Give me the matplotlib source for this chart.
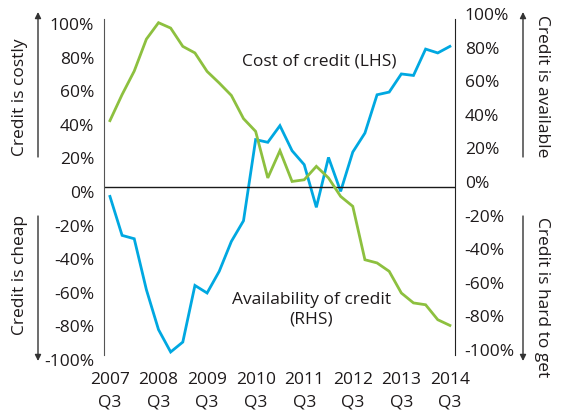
import numpy as np
import matplotlib
matplotlib.use("Agg")
import matplotlib.pyplot as plt
from matplotlib.transforms import ScaledTranslation

plt.rcParams['font.family'] = ['Open Sans', 'DejaVu Sans']

# quarterly, 2007 Q3 .. 2014 Q3
cost_lhs = [-5.6, -28.8, -30.8, -61.1, -84.9, -98.2, -92.3, -58.6,
            -63.1, -50.2, -32.4, -20.1, 28.2, 26.6, 36.5, 21.6,
            13.3, -12.1, 17.6, -2.6, 20.8, 32.1, 54.9, 56.5,
            67.3, 66.4, 82.1, 79.8, 83.7]
avail_rhs = [39.5, 55.0, 69.0, 88.0, 97.8, 94.6, 83.7, 79.8,
             68.8, 61.9, 54.5, 40.7, 33.1, 5.4, 21.6, 3.3,
             4.3, 12.3, 5.4, -5.6, -11.5, -43.3, -45.2, -50.2,
             -63.1, -69.0, -70.1, -79.0, -82.4]
year_labels = ['2007\nQ3', '2008\nQ3', '2009\nQ3', '2010\nQ3',
               '2011\nQ3', '2012\nQ3', '2013\nQ3', '2014\nQ3']
pct_ticks = [-100, -80, -60, -40, -20, 0, 20, 40, 60, 80, 100]

blue = '#00a8e1'
green = '#8dc03f'
txt = '#1e1a1b'
fs = 12.5

W, H = 562, 412
fig = plt.figure(figsize=(W / 100, H / 100), dpi=100)
ax = fig.add_axes([104 / W, 1 - 355 / H, 351 / W, 336 / H])
ax2 = ax.twinx()

x = np.arange(len(cost_lhs))
ax.plot(x, cost_lhs, color=blue, lw=2.0, solid_joinstyle='miter')
ax2.plot(x, avail_rhs, color=green, lw=2.0, solid_joinstyle='miter')
ax.axhline(0, color='#1a1a1a', lw=1.0)

for a in (ax, ax2):
    a.set_xlim(-0.49, 28.42)
    a.set_ylim(-100, 100)
    a.set_yticks(pct_ticks)
    a.set_yticklabels([f'{t}%' for t in pct_ticks])
    for s in ('top', 'bottom'):
        a.spines[s].set_visible(False)
    a.tick_params(length=0, labelsize=fs, colors=txt)
ax.spines['left'].set_color('#555555')
ax2.spines['right'].set_color('#222222')
ax.spines['right'].set_visible(False)
ax2.spines['left'].set_visible(False)
ax.tick_params(axis='y', pad=7)
ax2.tick_params(axis='y', pad=7)

ax.set_xticks(np.arange(0, len(cost_lhs), 4))
ax.set_xticklabels(year_labels, linespacing=1.6)
ax.tick_params(axis='x', pad=12)

# labels sit a little off the gridline positions in the original
down = ScaledTranslation(0, -0.05, fig.dpi_scale_trans)
up = ScaledTranslation(0, 0.05, fig.dpi_scale_trans)
for lab in ax.get_yticklabels():
    lab.set_transform(lab.get_transform() + down)
for lab in ax2.get_yticklabels():
    lab.set_transform(lab.get_transform() + up)

ax.text(17.2, 75, 'Cost of credit (LHS)', color=txt, fontsize=fs,
        ha='center', va='center')
ax.text(16.6, -73, 'Availability of credit\n(RHS)', color=txt,
        fontsize=fs, ha='center', va='center', linespacing=1.3)

# side captions with arrows
def fp(px, py):
    return px / W, 1 - py / H

fig.text(*fp(20, 97), 'Credit is costly', rotation=90, ha='center',
         va='center', fontsize=fs, color=txt)
fig.text(*fp(20, 275), 'Credit is cheap', rotation=90, ha='center',
         va='center', fontsize=fs, color=txt)
fig.text(*fp(542, 86), 'Credit is available', rotation=270, ha='center',
         va='center', fontsize=fs, color=txt)
fig.text(*fp(542, 297), 'Credit is hard to get', rotation=270, ha='center',
         va='center', fontsize=fs, color=txt)

arrows = [(38, 157, 12), (38, 216, 361), (523, 157, 12), (523, 216, 361)]
for ax_x, y0, y1 in arrows:
    fig.add_artist(plt.Annotation('', xy=fp(ax_x, y1), xytext=fp(ax_x, y0),
                                  xycoords='figure fraction',
                                  arrowprops=dict(arrowstyle='-|>', color='#333333',
                                                  lw=1.0, mutation_scale=9,
                                                  shrinkA=0, shrinkB=0)))

fig.savefig('out.png', dpi=100)
